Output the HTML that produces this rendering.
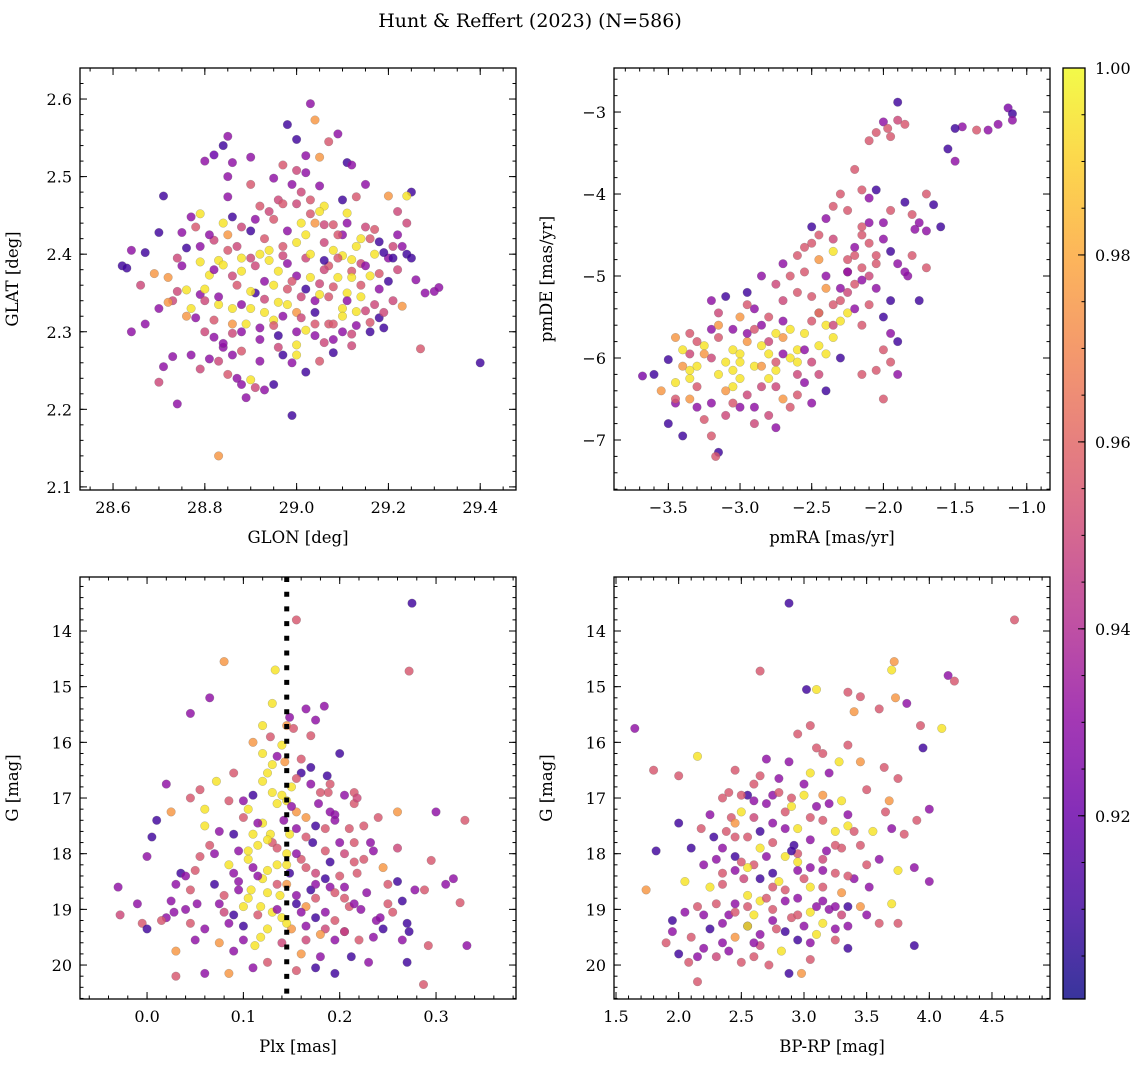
<!DOCTYPE html>
<html><head><meta charset="utf-8"><style>
html,body{margin:0;padding:0;background:#fff;}
svg{display:block;font-family:"DejaVu Serif","Liberation Serif",serif;}
</style></head><body>
<svg id="fig" width="1148" height="1067" viewBox="0 0 1148 1067">
<text x="530" y="27" font-size="19" text-anchor="middle">Hunt &amp; Reffert (2023) (N=586)</text>
</svg>
<script>
// ---- data (x, y, membership probability) ----
const p1GLONa=[29.03,29.04,28.98,29.09,29.07,29.00,28.85,28.84,28.82,28.80,28.86,28.90,29.02,29.05,29.11,29.12,28.97,29.00,29.15,29.25,28.71,28.85,29.13,29.20,29.24,28.92,29.06,29.11,28.79,28.77,28.86,28.70,28.75,28.62,28.63,28.64,28.67,28.69,28.72,28.66,28.76,28.74,28.79,28.81,28.83,28.84,28.86,28.88,28.90,28.94,28.93,28.96,28.98,29.00,29.02,29.04,29.06,29.08,29.10,29.12,29.14,29.16,29.18,29.20,29.22,29.26,29.28,29.30,29.31,29.40,29.27,29.19,29.18,29.15,29.13,29.10,29.07,29.04,29.00,28.97,28.95,28.93,28.90,28.88,28.86,28.83,28.80,28.77,28.76,28.73,28.70,28.67,28.64,28.73,28.71,28.77,28.80,28.82,28.84,28.86,28.83,28.85,28.87,28.88,28.89,28.91,28.93,28.95,28.97,28.99,29.02,29.00,29.02,29.04,29.06,29.08,29.10,29.12,29.08,29.05,28.99,28.90,28.83,28.74,28.70,28.79,28.81,28.95,28.98,29.01,29.03,29.05,29.07,29.09,29.11,29.14,29.16,29.18,29.21,29.23,29.20,29.17,29.13,29.10,29.08,29.05,29.03,29.01,28.99,28.96,28.94,28.91,28.88,28.85,28.82,28.79,28.76,28.74,28.91,28.93,28.97,29.02,29.06,29.12,29.15,29.22,29.24,29.22,29.24,28.88,28.86,28.96,28.92,29.00];
const p1GLATa=[2.594,2.573,2.567,2.555,2.545,2.548,2.552,2.540,2.528,2.520,2.518,2.525,2.527,2.525,2.518,2.515,2.515,2.508,2.490,2.480,2.475,2.474,2.474,2.475,2.475,2.462,2.462,2.453,2.452,2.448,2.448,2.428,2.428,2.385,2.382,2.405,2.402,2.375,2.370,2.360,2.354,2.352,2.348,2.373,2.392,2.386,2.372,2.395,2.395,2.405,2.420,2.378,2.388,2.415,2.425,2.440,2.415,2.405,2.398,2.393,2.388,2.420,2.416,2.395,2.380,2.367,2.350,2.352,2.357,2.260,2.278,2.305,2.318,2.327,2.326,2.330,2.345,2.340,2.325,2.320,2.315,2.325,2.330,2.335,2.330,2.335,2.340,2.330,2.320,2.340,2.330,2.310,2.300,2.268,2.255,2.270,2.300,2.293,2.280,2.270,2.262,2.245,2.240,2.232,2.215,2.228,2.225,2.232,2.270,2.260,2.248,2.283,2.302,2.310,2.286,2.290,2.300,2.297,2.273,2.262,2.192,2.238,2.140,2.207,2.235,2.252,2.265,2.360,2.355,2.345,2.370,2.362,2.385,2.370,2.350,2.360,2.372,2.355,2.340,2.333,2.365,2.400,2.410,2.425,2.438,2.455,2.470,2.480,2.490,2.470,2.455,2.445,2.435,2.425,2.418,2.410,2.408,2.395,2.350,2.365,2.398,2.395,2.392,2.378,2.435,2.425,2.440,2.455,2.400,2.300,2.310,2.295,2.290,2.300];
const p1Proba=[.93,.975,.91,.93,.955,.91,.93,.91,.92,.93,.93,.93,.93,.975,.91,.93,.955,.95,.93,.91,.91,.93,.955,.975,.995,.955,.995,.995,.995,.93,.91,.91,.93,.91,.91,.93,.91,.975,.975,.95,.995,.95,.93,.995,.995,.995,.95,.995,.95,.995,.955,.995,.93,.995,.995,.975,.95,.995,.995,.995,.95,.955,.91,.93,.95,.93,.93,.93,.93,.91,.955,.91,.91,.95,.995,.995,.955,.93,.975,.93,.995,.995,.995,.93,.995,.995,.95,.995,.975,.95,.93,.93,.93,.93,.93,.93,.95,.93,.93,.93,.95,.955,.93,.93,.93,.95,.93,.91,.91,.93,.91,.995,.995,.955,.95,.93,.93,.95,.91,.955,.91,.995,.975,.93,.95,.95,.93,.995,.955,.95,.995,.95,.955,.995,.995,.955,.995,.93,.95,.975,.91,.995,.995,.93,.955,.995,.955,.95,.93,.95,.95,.93,.95,.975,.95,.93,.91,.95,.91,.93,.95,.95,.91,.955,.95,.93,.95,.95,.91,.93,.975,.91,.93,.93];
const p1GLONb=[28.78,28.81,28.84,28.87,28.90,28.92,28.95,28.98,29.01,29.03,29.06,29.09,29.11,29.14,29.17,29.19,29.21,28.79,28.82,28.85,28.88,28.91,28.94,28.97,29.00,29.03,29.06,29.09,29.12,29.15,29.18,29.21,28.80,28.83,28.87,28.90,28.93,28.96,28.99,29.02,29.05,29.08,29.11,29.14,29.17,28.78,28.82,28.86,28.89,28.92,28.95,28.98,29.01,29.04,29.07,29.10,29.13,29.16,29.19,28.84,28.88,28.92,28.96,29.00,29.04,29.08,29.12,29.16,28.85,28.90,28.95,29.00,29.05,29.10,28.75,28.72,29.25,29.23,28.97,29.02];
const p1GLATb=[2.435,2.425,2.440,2.410,2.430,2.400,2.445,2.430,2.440,2.452,2.438,2.425,2.440,2.420,2.432,2.402,2.410,2.390,2.380,2.405,2.378,2.385,2.392,2.410,2.372,2.400,2.380,2.395,2.370,2.385,2.375,2.395,2.355,2.345,2.360,2.352,2.342,2.338,2.365,2.355,2.348,2.358,2.340,2.345,2.335,2.318,2.315,2.298,2.310,2.305,2.308,2.335,2.318,2.325,2.310,2.320,2.308,2.312,2.325,2.285,2.275,2.262,2.280,2.270,2.295,2.310,2.282,2.300,2.500,2.490,2.498,2.465,2.488,2.470,2.385,2.338,2.395,2.410,2.465,2.505];
const p1Probb=[.955,.93,.995,.95,.91,.995,.955,.93,.995,.955,.95,.955,.93,.995,.955,.91,.95,.995,.93,.955,.995,.95,.995,.955,.93,.995,.95,.955,.995,.93,.955,.91,.995,.93,.955,.995,.95,.995,.955,.91,.995,.955,.93,.995,.95,.93,.955,.95,.995,.93,.955,.995,.95,.91,.955,.995,.93,.955,.95,.93,.955,.93,.95,.995,.93,.955,.95,.91,.93,.955,.93,.95,.93,.91,.93,.975,.91,.93,.955,.93];
const p1GLON=p1GLONa.concat(p1GLONb), p1GLAT=p1GLATa.concat(p1GLATb), p1Prob=p1Proba.concat(p1Probb);

const p2PmRAa=[-1.13,-1.10,-1.10,-1.20,-1.27,-1.35,-1.45,-1.50,-1.55,-1.50,-1.90,-1.90,-1.85,-2.00,-1.97,-2.05,-1.95,-2.10,-2.20,-2.15,-2.10,-2.05,-1.95,-1.85,-1.80,-1.70,-1.65,-1.75,-1.70,-1.78,-1.60,-2.30,-2.25,-2.35,-2.40,-2.50,-2.45,-2.35,-2.55,-2.60,-2.20,-2.15,-2.10,-2.00,-1.95,-1.90,-1.83,-1.80,-2.05,-2.15,-2.25,-2.35,-2.45,-2.55,-2.65,-2.75,-2.85,-2.95,-3.10,-3.20,-3.15,-3.35,-3.50,-3.60,-3.68,-3.55,-3.45,-3.40,-3.35,-3.30,-3.25,-3.20,-3.15,-3.10,-3.05,-3.00,-2.95,-2.90,-2.85,-2.80,-2.75,-2.70,-2.65,-2.60,-2.55,-2.50,-2.45,-2.40,-2.35,-2.30,-2.25,-2.20,-2.10,-2.00,-1.95,-1.90,-1.95,-2.05,-2.15,-2.00,-1.90,-2.30,-2.40,-2.50,-2.60,-2.70,-2.80,-2.90,-3.00,-3.10,-3.20,-3.15,-3.17,-3.25,-3.40,-3.35,-3.45,-3.30,-2.75,-2.65,-3.05,-3.00,-2.90,-2.80,-2.70,-2.60,-2.50,-2.40,-2.30,-2.20,-2.10,-2.25,-2.40,-2.15,-2.00,-2.70,-2.80,-3.45,-3.40,-3.35,-3.05,-2.95,-2.85,-3.20,-3.50,-3.00,-2.75,-2.85,-2.55,-2.45,-1.85,-1.70,-1.75];
const p2PmDEa=[-2.95,-3.02,-3.10,-3.15,-3.22,-3.22,-3.18,-3.20,-3.45,-3.60,-2.88,-3.10,-3.15,-3.12,-3.20,-3.25,-3.30,-3.35,-3.70,-3.95,-4.05,-3.95,-4.20,-4.10,-4.25,-4.00,-4.13,-4.35,-4.45,-4.43,-4.40,-4.00,-4.20,-4.15,-4.30,-4.40,-4.50,-4.55,-4.65,-4.75,-4.65,-4.50,-4.35,-4.55,-4.70,-4.85,-5.00,-4.75,-4.85,-4.90,-4.95,-4.70,-4.80,-4.95,-5.00,-5.10,-5.00,-5.20,-5.25,-5.30,-5.45,-5.70,-6.02,-6.20,-6.22,-6.40,-6.30,-6.10,-5.95,-6.10,-5.85,-6.00,-6.20,-6.05,-5.90,-6.25,-5.80,-6.10,-6.35,-5.95,-6.15,-5.75,-6.00,-5.90,-5.70,-6.05,-5.85,-5.60,-5.75,-5.55,-5.45,-5.40,-5.35,-5.50,-5.70,-5.80,-6.05,-6.15,-6.20,-6.50,-6.20,-6.00,-6.40,-6.55,-6.45,-6.50,-6.70,-6.80,-6.60,-6.70,-6.95,-7.15,-7.20,-6.75,-6.95,-6.50,-6.55,-6.35,-6.85,-6.60,-5.65,-5.50,-5.40,-5.50,-5.30,-5.20,-5.25,-5.15,-5.30,-5.10,-5.00,-4.80,-5.00,-5.60,-5.90,-5.55,-5.80,-5.75,-5.90,-6.25,-6.35,-6.45,-6.10,-6.55,-6.80,-5.95,-5.70,-5.60,-6.30,-6.20,-4.95,-4.90,-5.30];
const p2Proba=[.925,.91,.93,.93,.93,.955,.93,.91,.91,.93,.91,.95,.955,.93,.955,.955,.955,.955,.955,.955,.93,.91,.955,.91,.955,.955,.91,.93,.93,.93,.91,.955,.955,.955,.93,.91,.955,.95,.955,.955,.93,.955,.93,.93,.91,.93,.93,.955,.955,.955,.95,.995,.975,.955,.955,.95,.93,.91,.91,.93,.95,.955,.91,.91,.925,.975,.995,.975,.95,.995,.995,.95,.995,.995,.995,.995,.975,.995,.95,.995,.995,.975,.995,.995,.995,.95,.995,.995,.995,.995,.995,.93,.955,.91,.93,.91,.955,.955,.955,.955,.93,.91,.91,.93,.955,.975,.95,.95,.93,.95,.955,.91,.955,.955,.91,.975,.93,.955,.93,.955,.93,.975,.93,.955,.95,.955,.955,.975,.955,.955,.95,.955,.93,.955,.955,.93,.95,.975,.995,.995,.995,.95,.975,.93,.91,.995,.995,.93,.93,.95,.93,.955,.91];
const p2PmRAb=[-3.35,-3.25,-3.15,-3.05,-2.95,-2.85,-2.75,-2.65,-2.55,-2.45,-2.35,-2.25,-2.15,-2.05,-3.30,-3.20,-3.10,-3.00,-2.90,-2.80,-2.70,-2.60,-2.50,-2.40,-2.30,-2.20,-2.10,-2.00,-3.45,-3.30,-3.05,-2.90,-2.75,-2.60,-2.45,-2.35,-2.25,-2.15,-2.05,-1.95,-2.50,-2.70,-2.95,-3.15];
const p2PmDEb=[-6.15,-5.95,-5.75,-6.15,-5.70,-5.85,-6.05,-5.65,-5.90,-5.45,-5.35,-5.20,-5.05,-4.75,-5.80,-5.65,-6.40,-6.05,-5.65,-6.25,-5.95,-6.20,-5.55,-5.95,-5.15,-4.75,-4.60,-4.35,-6.50,-6.60,-6.55,-6.60,-6.35,-6.05,-5.45,-5.60,-4.95,-4.40,-5.15,-5.30,-4.60,-4.85,-5.35,-5.60];
const p2Probb=[.995,.975,.955,.995,.93,.995,.955,.995,.93,.995,.955,.95,.93,.955,.955,.93,.975,.995,.955,.995,.93,.95,.955,.995,.93,.955,.955,.93,.955,.93,.955,.93,.95,.995,.955,.95,.93,.955,.93,.91,.955,.93,.955,.975];
const p2PmRA=p2PmRAa.concat(p2PmRAb), p2PmDE=p2PmDEa.concat(p2PmDEb), p2Prob=p2Proba.concat(p2Probb);

const p3PlxA=[0.275,0.155,0.272,0.08,0.065,0.045,0.133,0.148,0.145,0.152,0.165,0.175,0.184,0.170,0.17,0.187,0.16,0.155,0.188,0.215,0.195,0.215,0.24,0.26,0.30,0.33,0.295,0.318,0.288,0.332,0.287,0.265,0.255,0.272,0.292,0.27,0.31,0.325,0.072,0.06,0.025,0.01,0.005,0.0,-0.03,-0.028,-0.01,-0.005,0.02,0.03,0.03,0.06,0.075,0.085,0.11,0.125,0.155,0.175,0.195,0.22,0.245,0.265,0.02,0.045,0.055,0.06,0.075,0.09,0.10,0.105,0.115,0.12,0.125,0.13,0.135,0.128,0.135,0.12,0.108,0.118,0.13,0.14,0.125,0.138,0.112,0.118,0.145,0.155,0.165,0.175,0.185,0.195,0.160,0.18,0.19,0.205,0.218,0.235,0.245,0.228,0.238,0.25,0.2,0.185,0.172,0.165,0.155,0.148,0.16,0.175,0.19,0.09,0.075,0.06,0.045,0.035,0.025,0.015,0.08,0.095,0.10,0.085,0.07,0.055,0.04,0.065,0.085,0.11,0.095,0.1,0.11,0.09,0.12,0.11,0.135,0.128,0.14,0.143,0.12,0.13,0.15,0.142,0.13,0.145,0.148,0.14,0.15,0.16,0.17,0.178,0.19,0.205,0.21,0.225,0.218,0.232,0.2,0.21,0.222,0.242,0.26,0.278,0.028,0.045,0.05,0.0,0.052,0.1,0.09,0.165,0.18,0.205,0.212,0.23];
const p3GA=[13.5,13.8,14.72,14.55,15.2,15.48,14.70,15.55,15.70,15.75,15.4,15.6,15.35,15.88,16.45,16.6,16.55,16.65,16.9,16.9,17.4,17.1,17.35,17.25,17.25,17.40,18.12,18.45,18.65,19.65,20.35,18.85,19.05,19.40,19.65,19.95,18.55,18.88,16.70,17.2,17.25,17.4,17.7,18.05,18.6,19.1,18.9,19.25,19.15,19.75,20.2,20.15,19.6,20.15,20.05,19.95,20.1,20.05,20.15,19.55,19.35,19.55,16.75,17.0,16.85,17.50,17.60,17.65,17.35,17.95,17.85,17.45,16.55,16.90,17.10,17.65,18.2,18.45,18.65,18.95,19.05,19.15,19.35,18.75,19.65,19.50,18.55,18.75,18.95,19.15,19.35,19.55,19.80,19.45,18.60,18.80,18.35,17.95,18.25,18.70,19.20,18.55,17.8,17.55,17.8,17.35,17.25,17.65,18.1,18.35,18.15,18.35,18.9,19.35,18.65,18.35,18.85,19.20,19.05,18.65,18.95,19.25,18.55,18.05,18.40,17.85,18.2,18.25,17.95,17.05,16.95,16.55,16.2,16.0,16.25,15.9,16.05,16.35,15.70,15.30,16.8,17.4,17.80,18.0,18.35,19.6,19.35,19.05,18.65,17.10,16.75,16.95,17.55,17.50,17.0,17.8,18.40,18.95,19.00,19.15,18.5,18.65,19.05,19.25,19.55,19.35,18.9,19.3,19.75,19.55,19.85,19.40,19.85,19.95];
const p3ProbA=[.91,.955,.955,.975,.93,.93,.995,.93,.975,.955,.93,.93,.93,.955,.91,.91,.91,.955,.955,.955,.93,.955,.955,.975,.93,.955,.955,.93,.955,.93,.955,.91,.955,.91,.955,.91,.93,.955,.995,.995,.975,.91,.91,.93,.93,.95,.93,.955,.93,.975,.955,.93,.975,.975,.93,.955,.955,.91,.91,.955,.91,.93,.93,.955,.955,.995,.93,.91,.955,.995,.995,.995,.995,.995,.995,.995,.995,.995,.995,.995,.995,.995,.995,.995,.995,.995,.975,.93,.975,.91,.95,.93,.975,.975,.93,.955,.955,.93,.975,.93,.93,.955,.93,.955,.91,.975,.975,.995,.955,.95,.91,.93,.93,.93,.955,.91,.93,.955,.95,.93,.995,.93,.91,.955,.93,.955,.995,.93,.93,.93,.91,.955,.995,.975,.93,.955,.995,.975,.995,.995,.995,.93,.955,.995,.91,.95,.975,.93,.91,.93,.955,.93,.955,.955,.95,.93,.955,.955,.93,.93,.91,.93,.93,.955,.93,.91,.93,.91,.93,.95,.93,.93,.91,.93];
const p3PlxB=[0.105,0.115,0.125,0.135,0.145,0.155,0.165,0.175,0.185,0.195,0.205,0.215,0.105,0.115,0.125,0.135,0.145,0.155,0.165,0.175,0.185,0.195,0.205,0.215,0.105,0.115,0.125,0.135,0.145,0.155,0.165,0.175,0.185,0.195,0.205,0.215,0.07,0.08,0.09,0.10,0.05,0.04,0.225,0.235,0.25,0.26,0.03,0.27,0.12,0.13,0.14,0.15,0.16,0.11,0.17,0.18,0.19,0.2,0.095,0.085];
const p3GB=[17.2,17.45,17.75,17.9,17.05,17.55,17.7,17.5,17.95,17.3,18.0,17.8,18.1,18.4,18.3,18.55,18.2,18.0,18.25,18.55,18.45,18.7,18.6,18.15,18.8,19.1,18.7,19.0,19.25,18.9,19.3,18.8,19.05,19.2,19.4,18.9,18.0,18.75,19.1,19.55,18.3,19.0,18.1,19.5,18.9,17.9,18.55,19.25,16.7,16.4,16.95,17.15,16.3,17.65,16.75,16.9,17.25,16.2,18.5,17.05];
const p3ProbB=[.995,.93,.995,.955,.995,.93,.955,.91,.955,.93,.95,.955,.995,.93,.995,.955,.995,.93,.955,.93,.91,.955,.93,.955,.995,.955,.995,.93,.995,.91,.93,.955,.93,.955,.95,.93,.93,.955,.91,.93,.955,.93,.955,.93,.955,.95,.93,.91,.995,.995,.995,.93,.955,.995,.93,.955,.93,.91,.93,.955];
const p3Plx=p3PlxA.concat(p3PlxB), p3G=p3GA.concat(p3GB), p3Prob=p3ProbA.concat(p3ProbB);

const p4BpRpA=[2.88,4.68,2.65,3.72,3.70,3.02,3.1,3.35,3.45,3.40,3.6,3.73,3.82,3.93,4.1,3.95,4.15,4.20,1.65,1.8,2.0,2.15,2.45,2.60,2.88,2.95,3.05,3.15,3.20,3.28,3.35,3.45,3.50,3.64,3.68,3.75,3.3,2.25,2.18,2.0,1.82,1.74,1.95,2.0,2.08,2.15,2.3,2.5,2.72,2.88,2.98,2.1,2.2,2.35,2.45,2.55,2.65,2.78,2.82,2.9,3.0,3.1,3.2,3.3,3.45,3.6,3.7,3.75,3.88,4.0,3.75,3.5,3.4,3.3,3.15,3.05,2.95,2.85,2.75,2.65,2.55,2.45,2.35,2.25,2.15,2.05,2.3,2.45,2.55,2.65,2.75,2.85,2.95,3.05,3.15,3.25,3.35,3.45,3.6,3.55,3.65,3.7,3.80,3.88,4.0,3.9,2.5,2.4,2.55,2.65,2.75,2.8,2.9,3.0,3.1,3.15,3.05,2.6,2.7,2.85,2.95,3.05,3.15,3.25,2.4,2.6,2.75,2.95,3.05,3.25,3.35,2.2,1.95,2.05,2.28,2.38,2.42,2.92,3.18,3.52,3.3,2.52,2.7,2.45,3.35];
const p4GA=[13.5,13.8,14.72,14.55,14.70,15.05,15.05,15.1,15.18,15.45,15.4,15.2,15.3,15.7,15.75,16.1,14.8,14.9,15.75,16.50,16.60,16.25,16.5,16.75,16.35,15.85,15.7,16.2,16.55,16.35,16.05,16.35,16.85,16.45,17.05,16.65,17.05,17.3,17.55,17.45,17.95,18.65,19.4,19.8,19.95,20.3,19.85,19.95,20.0,20.15,20.15,19.5,19.1,19.6,19.5,19.3,19.65,19.35,19.75,19.15,19.3,19.45,19.0,19.1,18.95,19.25,18.9,19.25,19.65,18.5,18.3,18.2,18.45,18.7,18.85,18.6,18.3,18.85,18.6,18.45,18.75,18.9,18.35,18.6,18.95,18.5,18.1,18.05,17.7,17.9,17.45,17.25,17.55,17.75,17.4,17.6,17.3,17.85,18.1,17.6,17.25,17.55,17.65,18.25,17.2,17.4,17.25,16.9,16.95,16.6,16.95,16.65,17.0,16.95,17.15,16.95,16.55,18.2,18.05,18.05,18.0,18.25,18.1,18.35,19.1,19.1,19.2,19.55,19.9,19.35,19.7,19.7,19.2,19.05,17.7,17.6,17.35,17.85,17.95,18.6,17.9,18.45,17.1,17.45,18.95];
const p4ProbA=[.91,.955,.955,.975,.995,.91,.995,.955,.955,.975,.955,.975,.93,.955,.995,.91,.93,.955,.93,.955,.955,.995,.955,.955,.93,.955,.955,.955,.93,.995,.955,.975,.955,.955,.975,.955,.995,.93,.955,.91,.91,.975,.93,.91,.955,.955,.95,.955,.955,.91,.975,.955,.93,.93,.975,.91,.95,.955,.995,.955,.93,.995,.93,.95,.975,.955,.995,.955,.91,.93,.995,.955,.93,.975,.93,.995,.93,.93,.955,.91,.995,.93,.955,.995,.955,.995,.93,.91,.955,.995,.93,.955,.995,.93,.955,.995,.93,.955,.93,.995,.955,.93,.955,.93,.93,.955,.995,.955,.91,.955,.93,.93,.955,.995,.93,.975,.995,.955,.93,.995,.955,.93,.95,.955,.93,.995,.93,.91,.955,.93,.91,.93,.91,.93,.91,.955,.955,.91,.93,.93,.955,.95,.93,.975,.91];
const p4BpRpB=[2.35,2.45,2.55,2.65,2.75,2.85,2.95,3.05,3.15,3.25,3.35,2.6,2.35,2.45,2.55,2.65,2.75,2.85,2.95,3.05,3.15,3.25,3.35,2.6,2.35,2.45,2.55,2.65,2.75,2.85,2.95,3.05,3.15,3.25,3.35,2.6,2.2,2.3,2.4,2.5,2.7,2.8,2.9,3.0,3.1,3.2,3.4,3.5,2.25,2.5,2.6,2.7,2.8,2.9,3.0,3.1,2.35,2.15,1.9,2.1];
const p4GB=[17.9,17.7,18.25,17.6,17.8,17.55,18.15,17.35,18.3,17.85,17.5,17.05,18.55,18.3,18.95,18.85,18.35,18.65,18.8,19.05,18.6,18.95,18.4,17.35,19.25,19.05,19.3,19.45,19.0,19.4,19.1,19.6,19.25,19.55,19.3,19.85,18.2,18.9,19.75,16.95,16.3,16.9,17.15,16.75,16.1,17.1,17.6,19.1,19.35,18.15,19.6,18.8,18.5,17.95,18.45,18.95,17.0,19.85,19.6,17.9];
const p4ProbB=[.93,.955,.995,.91,.955,.93,.995,.955,.93,.955,.995,.93,.955,.93,.955,.995,.91,.955,.93,.995,.955,.93,.955,.95,.93,.955,.995,.93,.955,.91,.955,.93,.995,.955,.93,.955,.93,.955,.93,.955,.93,.955,.995,.93,.955,.93,.955,.93,.91,.955,.93,.955,.995,.91,.955,.93,.955,.93,.955,.91];
const p4BpRp=p4BpRpA.concat(p4BpRpB), p4G=p4GA.concat(p4GB), p4Prob=p4ProbA.concat(p4ProbB);

const plxRef=[0.145];
const cbTicks=[0.92,0.94,0.96,0.98,1.00];
const vmin=0.9004, vmax=1.0;

// ---- plasma colormap ----
const plasma=["#0d0887","#41049d","#6a00a8","#8f0da4","#b12a90","#cc4778","#e16462","#f2844b","#fca636","#fcce25","#f0f921"];
function hex(h){return [parseInt(h.substr(1,2),16),parseInt(h.substr(3,2),16),parseInt(h.substr(5,2),16)];}
function cmap(v){let t=Math.max(0,Math.min(1,(v-vmin)/(vmax-vmin)))*10;let i=Math.min(9,Math.floor(t));let f=t-i;const a=hex(plasma[i]),b=hex(plasma[i+1]);return `rgb(${a.map((x,k)=>Math.round(x+(b[k]-x)*f)).join(',')})`;}

const NS="http://www.w3.org/2000/svg";
const svg=document.getElementById('fig');
function mk(tag,attrs,parent){const e=document.createElementNS(NS,tag);for(const k in attrs)e.setAttribute(k,attrs[k]);(parent||svg).appendChild(e);return e;}

function panel(cfg){
  const {x0,y0,w,h,xmin,xmax,ymin,ymax,invY,xs,ys,cs,xMaj,xMin,yMaj,yMin,xFmt,yFmt,xlab,ylab,name}=cfg;
  const g=mk('g',{});
  
  
  const sx=v=>x0+(v-xmin)/(xmax-xmin)*w;
  const sy=v=>invY? y0+(v-ymin)/(ymax-ymin)*h : y0+h-(v-ymin)/(ymax-ymin)*h;
  const clipId='clip-'+name;
  const cp=mk('clipPath',{id:clipId},g);mk('rect',{x:x0,y:y0,width:w,height:h},cp);
  const pts=mk('g',{'clip-path':`url(#${clipId})`},g);
  for(let i=0;i<xs.length;i++){
    const c=mk('circle',{cx:sx(xs[i]).toFixed(1),cy:sy(ys[i]).toFixed(1),r:4.3,fill:cmap(cs[i]),'fill-opacity':0.82,stroke:'#666','stroke-opacity':0.45,'stroke-width':0.5},pts);
    
    
  }
  cfg.extra&&cfg.extra(pts,sx,sy);
  const fr=mk('rect',{x:x0,y:y0,width:w,height:h,fill:'none',stroke:'#000','stroke-width':1.3},g);
  
  
  const eps=1e-9;
  function ticksX(step,len,labels){
    let s=Math.ceil(xmin/step-eps);
    for(let k=s;k*step<=xmax+eps;k++){const v=k*step;const X=sx(v);
      mk('line',{x1:X,x2:X,y1:y0+h,y2:y0+h-len,stroke:'#000','stroke-width':1},g);
      mk('line',{x1:X,x2:X,y1:y0,y2:y0+len,stroke:'#000','stroke-width':1},g);
      if(labels){const t=mk('text',{x:X,y:y0+h+23,'font-size':16,'text-anchor':'middle'},g);t.textContent=xFmt(v);
        
        }
    }}
  function ticksY(step,len,labels){
    let lo=Math.min(ymin,ymax),hi=Math.max(ymin,ymax);
    let s=Math.ceil(lo/step-eps);
    for(let k=s;k*step<=hi+eps;k++){const v=k*step;const Y=sy(v);
      mk('line',{x1:x0,x2:x0+len,y1:Y,y2:Y,stroke:'#000','stroke-width':1},g);
      mk('line',{x1:x0+w,x2:x0+w-len,y1:Y,y2:Y,stroke:'#000','stroke-width':1},g);
      if(labels){const t=mk('text',{x:x0-8,y:Y+6,'font-size':16,'text-anchor':'end'},g);t.textContent=yFmt(v);
        
        }
    }}
  ticksX(xMin,3.5,false);ticksX(xMaj,7,true);ticksY(yMin,3.5,false);ticksY(yMaj,7,true);
  const xl=mk('text',{x:x0+w/2,y:y0+h+53,'font-size':16.5,'text-anchor':'middle'},g);xl.textContent=xlab;
  
  
  const yx=x0-62, yy=y0+h/2;
  const yl=mk('text',{x:yx,y:yy,'font-size':16.5,'text-anchor':'middle',transform:`rotate(-90 ${yx} ${yy})`},g);yl.textContent=ylab;
  
  
}
const f1=v=>v.toFixed(1), f0=v=>String(Math.round(v)), fm=v=>(v<0?'\u2212':'')+Math.abs(v).toFixed(1);
const fm0=v=>(v<0?'\u2212':'')+Math.abs(Math.round(v));
panel({name:'panel-glon-glat',x0:80,y0:68,w:436,h:422,xmin:28.528,xmax:29.478,ymin:2.096,ymax:2.640,xs:p1GLON,ys:p1GLAT,cs:p1Prob,xMaj:0.2,xMin:0.05,yMaj:0.1,yMin:0.02,xFmt:f1,yFmt:f1,xlab:'GLON [deg]',ylab:'GLAT [deg]'});
panel({name:'panel-pmra-pmde',x0:614,y0:68,w:436,h:422,xmin:-3.879,xmax:-0.838,ymin:-7.61,ymax:-2.463,xs:p2PmRA,ys:p2PmDE,cs:p2Prob,xMaj:0.5,xMin:0.1,yMaj:1,yMin:0.2,xFmt:fm,yFmt:fm0,xlab:'pmRA [mas/yr]',ylab:'pmDE [mas/yr]'});
panel({name:'panel-plx-g',x0:80,y0:577,w:436,h:422,xmin:-0.0696,xmax:0.383,ymin:13.03,ymax:20.61,invY:true,xs:p3Plx,ys:p3G,cs:p3Prob,xMaj:0.1,xMin:0.02,yMaj:1,yMin:0.2,xFmt:f1,yFmt:f0,xlab:'Plx [mas]',ylab:'G [mag]',
  extra:(g,sx,sy)=>{const X=sx(plxRef[0]);const l=mk('line',{x1:X,x2:X,y1:577,y2:999,stroke:'#000','stroke-width':5,'stroke-dasharray':'5,9.7'},g);
    
    }});
panel({name:'panel-bprp-g',x0:614,y0:577,w:436,h:422,xmin:1.484,xmax:4.963,ymin:13.03,ymax:20.61,invY:true,xs:p4BpRp,ys:p4G,cs:p4Prob,xMaj:0.5,xMin:0.1,yMaj:1,yMin:0.2,xFmt:f1,yFmt:f0,xlab:'BP-RP [mag]',ylab:'G [mag]'});

// ---- colorbar ----
const cb=mk('g',{});


const cbx=1063,cby=68,cbw=22,cbh=931;
const defs=mk('defs',{},cb);
const lg=mk('linearGradient',{id:'cbg',x1:0,y1:1,x2:0,y2:0},defs);
for(let i=0;i<=20;i++){const v=vmin+(vmax-vmin)*i/20;mk('stop',{offset:i/20,'stop-color':cmap(v),'stop-opacity':0.82},lg);}
mk('rect',{x:cbx,y:cby,width:cbw,height:cbh,fill:'url(#cbg)'},cb);
mk('rect',{x:cbx,y:cby,width:cbw,height:cbh,fill:'none',stroke:'#000','stroke-width':1.3},cb);
const cy=v=>cby+cbh-(v-vmin)/(vmax-vmin)*cbh;
for(let v=0.905;v<1.0001;v+=0.005){const Y=cy(v);mk('line',{x1:cbx+cbw,x2:cbx+cbw-3.5,y1:Y,y2:Y,stroke:'#000'},cb);}
cbTicks.forEach(v=>{const Y=cy(v);mk('line',{x1:cbx+cbw,x2:cbx+cbw-7,y1:Y,y2:Y,stroke:'#000'},cb);
  const t=mk('text',{x:cbx+cbw+10,y:Y+6,'font-size':16},cb);t.textContent=v.toFixed(2);
  
  });
</script>
</body></html>
